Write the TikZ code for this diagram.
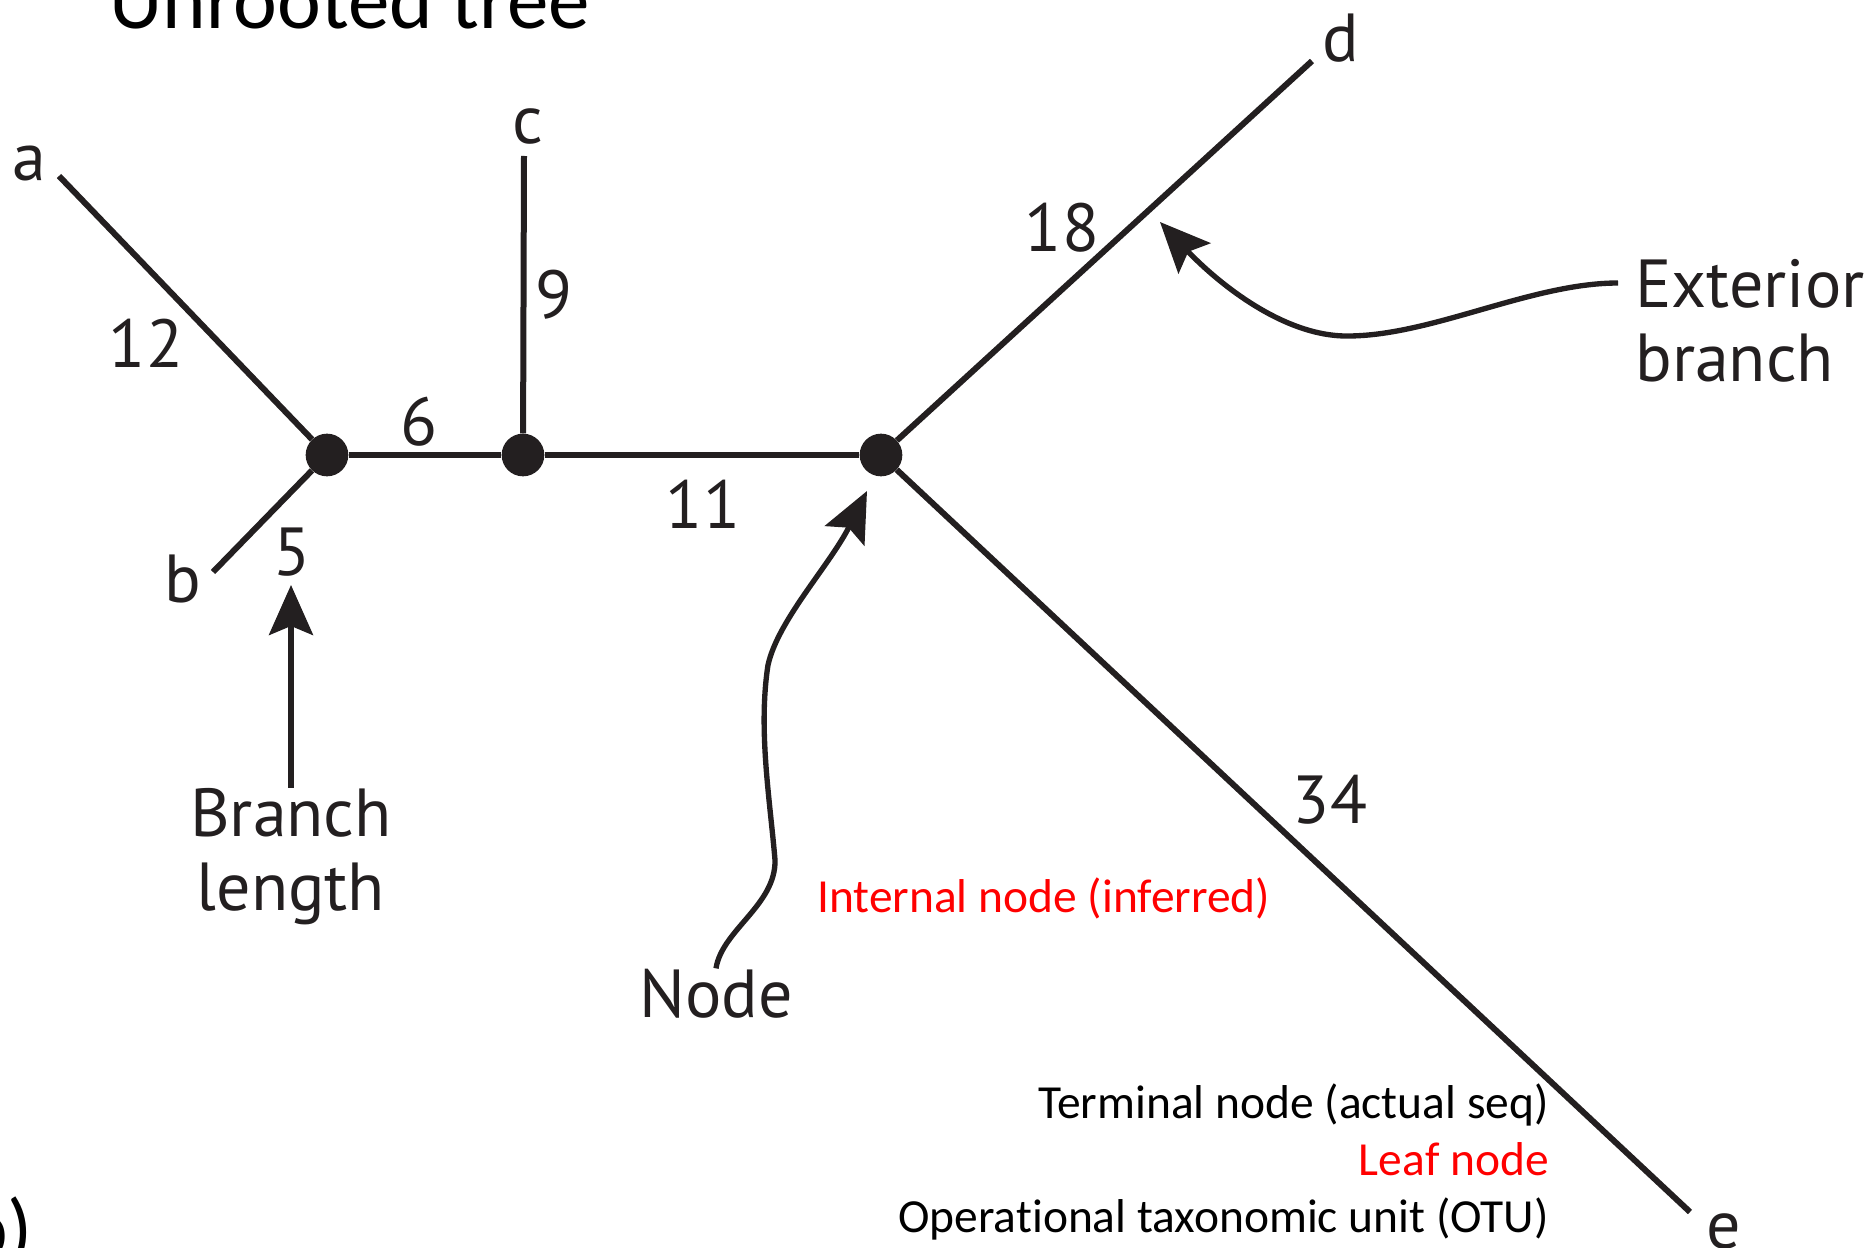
\documentclass[tikz,border=0pt]{standalone}
\usepackage{fontspec}
\setmainfont{Carlito}[Ligatures=NoCommon]
\newfontfamily\figfont{PT Sans}
\usepackage{xcolor}
\usetikzlibrary{arrows.meta}

\definecolor{treeink}{HTML}{231F20}

\tikzset{
  branch/.style={draw=treeink, line width=4.5pt},
  innernode/.style={circle, fill=treeink, inner sep=0pt, minimum size=32pt},
  treelbl/.style={font=\figfont\fontsize{51}{55.5}\selectfont, text=treeink, inner sep=0pt, anchor=base},
  callout/.style={treeink, line width=4pt, -{Stealth[length=37.5pt, width=33pt, inset=6.75pt]}},
  note/.style={font=\fontsize{35.6}{42.75}\selectfont, inner sep=0pt},
}

\begin{document}
\begin{tikzpicture}[x=0.75pt,y=0.75pt,yscale=-1,xscale=1]
\useasboundingbox (0,0) rectangle (1864,1248);
\clip (0,0) rectangle (1864,1248);

% Title and panel letter
\node (title) [note, font=\fontsize{62.25}{75}\selectfont, anchor=base west] at (109,29) {Unrooted tree};
\node (panel) [note, font=\fontsize{62.25}{75}\selectfont, anchor=base west] at (-36,1257) {b)};

% Internal nodes
\node (n1) [innernode] at (327,455) {};
\node (n2) [innernode] at (523,455) {};
\node (n3) [innernode] at (881,455) {};

% Leaf ends
\coordinate (a) at (59,176);
\coordinate (b) at (213,572);
\coordinate (c) at (524,156);
\coordinate (d) at (1312,61);
\coordinate (e) at (1690,1212);

%Straight Lines
\draw [branch] (a) -- (n1);
\draw [branch] (b) -- (n1);
\draw [branch] (n1) -- (n2);
\draw [branch] (c) -- (n2);
\draw [branch] (n2) -- (n3);
\draw [branch] (n3) -- (d);
\draw [branch] (n3) -- (e);

% Leaf labels
\node (la) [treelbl] at (29,181) {a};
\node (lb) [treelbl] at (183,602) {b};
\node (lc) [treelbl] at (528,144) {c};
\node (ld) [treelbl] at (1341,62) {d};
\node (le) [treelbl] at (1724,1248) {e};

% Branch lengths
\node (w12) [treelbl] at (146,368) {12};
\node (w5) [treelbl] at (292,575) {5};
\node (w6) [treelbl] at (419,445) {6};
\node (w9) [treelbl] at (554,319) {9};
\node (w11) [treelbl] at (703,528) {11};
\node (w18) [treelbl] at (1062,252) {18};
\node (w34) [treelbl] at (1330,823) {34};

% Text Node (base is the last line)
\node (blen) [treelbl, align=center] at (291,910) {Branch\\length};
\node (nodelbl) [treelbl] at (716,1017) {Node};
\node (ext) [treelbl, anchor=base west, align=left] at (1635,382) {Exterior\\branch};

%Curve Lines
\coordinate (blen tip) at (291,585);
\coordinate (node tip) at (867,491);
\coordinate (ext start) at (1618,283);
\coordinate (ext tip) at (1160,222);
\draw [callout] (blen.north) -- (blen tip);
\draw [callout] (nodelbl.north) .. controls (722,930) and (776,905) .. (775,860) .. controls (770,800) and (758,730) .. (768,665) .. controls (778,620) and (830,565) .. (node tip);
\draw [callout] (ext start) .. controls (1530,283) and (1430,337) .. (1345,336) .. controls (1280,335) and (1215,280) .. (ext tip);

% Text Node
\node (inner) [note, text=red, anchor=base west] at (817,912) {Internal node (inferred)};
\node (terminal) [note, anchor=base east] at (1549,1118) {Terminal node (actual seq)};
\node (leaf) [note, text=red, anchor=base east] at (1549,1175) {Leaf node};
\node (otu) [note, anchor=base east] at (1549,1232) {Operational taxonomic unit (OTU)};

\end{tikzpicture}
\end{document}
